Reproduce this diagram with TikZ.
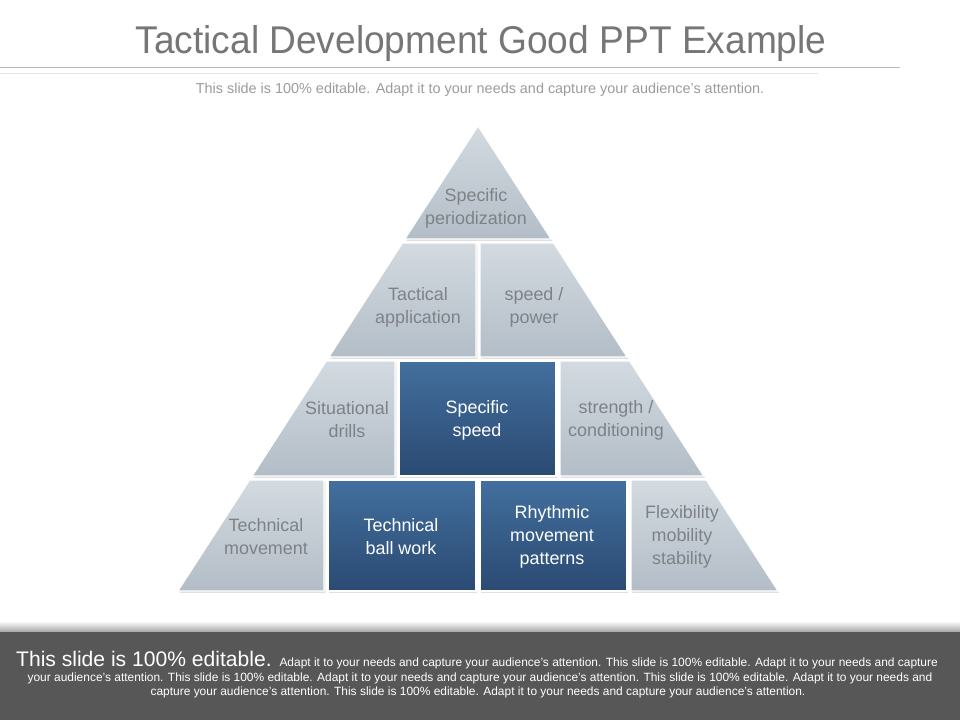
\documentclass[tikz,border=0pt]{standalone}
\usepackage{fontspec}
\setmainfont{Liberation Sans}
\newfontfamily\titlefont[FakeStretch=0.96]{Liberation Sans}
\usetikzlibrary{shadows}
\definecolor{cellTop}{HTML}{D3DAE0}
\definecolor{cellBot}{HTML}{B3BDC7}
\definecolor{darkTop}{HTML}{436F9E}
\definecolor{darkBot}{HTML}{2A4A72}
\definecolor{txtGray}{HTML}{7E8287}
\definecolor{titleGray}{HTML}{767676}
\definecolor{subGray}{HTML}{9C9C9C}
\definecolor{footerGray}{HTML}{575757}
\tikzset{
  lightcell/.style={top color=cellTop, bottom color=cellBot, draw=white, line width=0.9pt,
    drop shadow={opacity=0.25, shadow xshift=1.2pt, shadow yshift=-1.6pt}},
  darkcell/.style={top color=darkTop, bottom color=darkBot, draw=white, line width=0.9pt,
    drop shadow={opacity=0.25, shadow xshift=1.2pt, shadow yshift=-1.6pt}},
  lighttext/.style={text=txtGray, align=center, font=\fontsize{15.3}{19.6}\selectfont},
  darktext/.style={text=white, align=center, font=\fontsize{15.3}{19.6}\selectfont},
  footsmall/.style={anchor=base, text=white, inner sep=0pt, font=\fontsize{10.2}{12}\selectfont},
}
\begin{document}
\begin{tikzpicture}[x=0.03cm, y=-0.03cm]
\useasboundingbox (0,0) rectangle (960,720);
\fill[white] (0,0) rectangle (960,720);

% title
\node[anchor=base, text=titleGray, font=\titlefont\fontsize{33}{36}\selectfont] (title) at (481,53) {Tactical Development Good PPT Example};
\draw[line width=0.7pt, color=black!28] (0,67) coordinate (l1a) -- (900,67) coordinate (l1b);
\draw[line width=0.7pt, color=black!10] (0,73) coordinate (l2a) -- (818,73) coordinate (l2b);
\node[anchor=base, text=subGray, font=\fontsize{12.3}{14}\selectfont] (subtitle) at (480,93) {This slide is 100\% editable. Adapt it to your needs and capture your audience's attention.};

% pyramid row 1
\path[lightcell] (478,126) -- (551,239) -- (405,239) -- cycle;
% row 2
\path[lightcell] (402.5,243) -- (476,243) -- (476,357) -- (329,357) -- cycle;
\path[lightcell] (480,243) -- (553.5,243) -- (627,357) -- (480,357) -- cycle;
% row 3
\path[lightcell] (326.4,361) -- (395,361) -- (395,476) -- (252.3,476) -- cycle;
\path[darkcell] (399,361) -- (556,361) -- (556,476) -- (399,476) -- cycle;
\path[lightcell] (560,361) -- (629.6,361) -- (703.7,476) -- (560,476) -- cycle;
% row 4
\path[lightcell] (249.7,480) -- (324,480) -- (324,591) -- (178,591) -- cycle;
\path[darkcell] (328,480) -- (476,480) -- (476,591) -- (328,591) -- cycle;
\path[darkcell] (480,480) -- (627,480) -- (627,591) -- (480,591) -- cycle;
\path[lightcell] (631,480) -- (706.3,480) -- (778,591) -- (631,591) -- cycle;

% labels
\node[lighttext] (t1) at (476,208) {Specific\\periodization};
\node[lighttext] (t2) at (418,307) {Tactical\\application};
\node[lighttext] (t3) at (534,307) {speed /\\power};
\node[lighttext] (t4) at (347,420) {Situational\\drills};
\node[darktext] (t5) at (477,420) {Specific\\speed};
\node[lighttext] (t6) at (616,420) {strength /\\conditioning};
\node[lighttext] (t7) at (266,537) {Technical\\movement};
\node[darktext] (t8) at (401,537) {Technical\\ball work};
\node[darktext] (t9) at (552,537) {Rhythmic\\movement\\patterns};
\node[lighttext] (t10) at (682,537) {Flexibility\\mobility\\stability};

% footer
\shade[top color=white, bottom color=black!35] (0,621) rectangle (960,632);
\fill[footerGray] (0,632) rectangle (960,720);
\node[footsmall] (f1) at (477,666) {\fontsize{18}{20}\selectfont This slide is 100\% editable. \fontsize{10.2}{12}\selectfont Adapt it to your needs and capture your audience's attention. This slide is 100\% editable. Adapt it to your needs and capture};
\node[footsmall] (f2) at (480,681) {your audience's attention. This slide is 100\% editable. Adapt it to your needs and capture your audience's attention. This slide is 100\% editable. Adapt it to your needs and};
\node[footsmall] (f3) at (478,695) {capture your audience's attention. This slide is 100\% editable. Adapt it to your needs and capture your audience's attention.};
\end{tikzpicture}
\end{document}
